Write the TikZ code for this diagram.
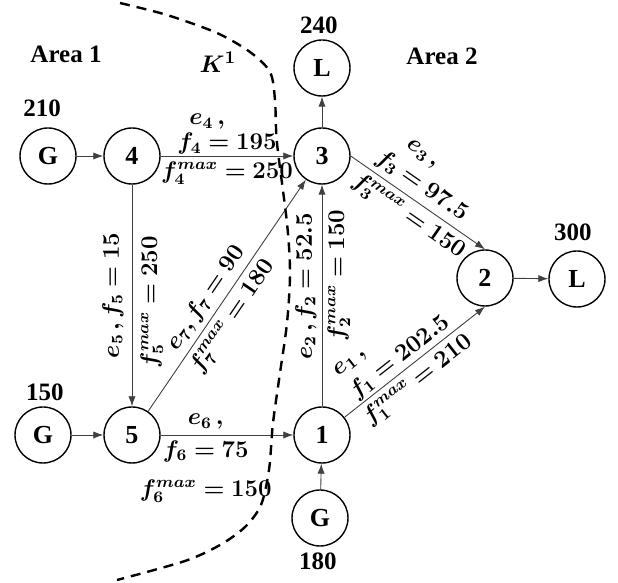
\documentclass[tikz,border=0pt]{standalone}
\usepackage[no-math]{fontspec}
\setmainfont{Liberation Serif}
\usepackage{bm}
\usetikzlibrary{arrows.meta}

\begin{document}
\begin{tikzpicture}
  [x=0.5pt,y=-0.5pt,every node/.style={inner sep=1.5pt}]
  \tikzstyle{bus} = [circle,draw,line width=0.7pt,minimum size=28pt,inner sep=0pt,font=\fontsize{13}{15}\selectfont\bfseries]
  \tikzstyle{flow} = [draw=black!75,line width=0.45pt,-{Latex[length=5pt,width=3.6pt]}]
  \tikzstyle{lbl} = [font=\fontsize{11.5}{14.5}\selectfont,inner sep=2.5pt]
  \tikzstyle{areatxt} = [font=\fontsize{12.5}{14}\selectfont\bfseries]
  \useasboundingbox (0,0) rectangle (618,583);
  % buses
  \node[bus] (g4) at (48,156) {G};
  \node[bus] (n4) at (132,156) {4};
  \node[bus] (n3) at (322,156) {3};
  \node[bus] (l3) at (322,68) {L};
  \node[bus] (n2) at (485,278) {2};
  \node[bus] (l2) at (577,279) {L};
  \node[bus] (g5) at (43,435) {G};
  \node[bus] (n5) at (132,435) {5};
  \node[bus] (n1) at (322,435) {1};
  \node[bus] (g1) at (320,518) {G};
  % injections
  \node[areatxt] (p4) at (42,108) {210};
  \node[areatxt] (p3) at (319,25) {240};
  \node[areatxt] (p2) at (573,232) {300};
  \node[areatxt] (p5) at (45,392) {150};
  \node[areatxt] (p1) at (318,561) {180};
  \node[areatxt] (a1) at (66,54) {Area 1};
  \node[areatxt] (a2) at (442,56) {Area 2};
  \node[areatxt] (k1) at (218,62) {$\bm{K^1}$};
\foreach \source /\dest in {g4/n4,g5/n5,g1/n1,n3/l3,n2/l2}
   \draw[flow] (\source) -- (\dest);
  % lines
  \draw[flow] (n4) -- node[lbl,above,align=left,inner sep=0.5pt,font=\fontsize{11.5}{12.5}\selectfont] (t4) {\hspace{6pt}$\bm{e_4\,,}$\\$\bm{f_4=195}$}
    node[lbl,below] (t4m) {$\bm{f_4^{max}=250}$} (n3);
  \draw[flow] (n3.east) -- node[lbl,sloped,above,pos=0.46,align=left] (t3) {\hspace{9pt}$\bm{e_3\,,}$\\$\bm{f_3=97.5}$}
    node[lbl,sloped,below,pos=0.5] (t3m) {$\bm{f_3^{max}=150}$} (n2.north);
  \draw[flow] (n4) -- node[lbl,rotate=90,anchor=south,inner sep=4pt] (t5) {$\bm{e_5\,,f_5=15}$}
    node[lbl,rotate=90,anchor=north,pos=0.53,inner sep=4pt] (t5m) {$\bm{f_5^{max}=250}$} (n5);
  \draw[flow] (n5) -- node[lbl,sloped,above,pos=0.45] (t7) {$\bm{e_7,f_7=90}$}
    node[lbl,sloped,below,pos=0.45] (t7m) {$\bm{f_7^{max}=180}$} (n3);
  \draw[flow] (n5) -- node[lbl,above,pos=0.34] (t6) {$\bm{e_6\,,}$}
    node[lbl,below,pos=0.34,align=center] (t6m) {$\bm{f_6=75}$\\[5pt]$\bm{f_6^{max}=150}$} (n1);
  \draw[flow] (n1) -- node[lbl,rotate=90,anchor=south,pos=0.54] (t2) {$\bm{e_2\,,f_2=52.5}$}
    node[lbl,rotate=90,anchor=north,pos=0.59] (t2m) {$\bm{f_2^{max}=150}$} (n3);
  \draw[flow] (n1) -- node[lbl,sloped,above,pos=0.45,align=left,inner sep=1pt] (t1) {$\bm{e_1\,,}$\\$\bm{f_1=202.5}$}
    node[lbl,sloped,below,pos=0.45] (t1m) {$\bm{f_1^{max}=210}$} (n2.south);
  % cut set
  \draw[line width=1.2pt,dash pattern=on 5pt off 3.5pt] plot[smooth] coordinates
    {(120,3) (167,15) (217,33) (250,52) (270,72) (275,100) (277,143) (287,223) (290,273)
     (287,323) (280,373) (273,423) (269,470) (261,505) (245,527) (220,545) (185,561) (117,580)};
\end{tikzpicture}
\end{document}
